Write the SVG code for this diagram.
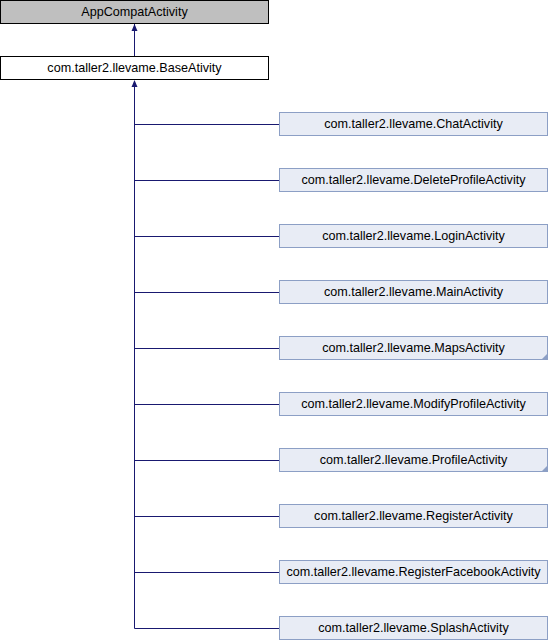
<svg xmlns="http://www.w3.org/2000/svg" width="548" height="640" viewBox="0 0 548 640">
<style>
text{font-family:"Liberation Sans",Arial,sans-serif;font-size:12.6px;fill:#000;text-anchor:middle}
.child{fill:#e8ecf5;stroke:#8c9fc5;stroke-width:1}
.edge{fill:none;stroke:#191970;stroke-width:1}
.fold{fill:#8c9fc5}
</style>
<rect width="548" height="640" fill="#fff"/>
<g id="connectors">
<line class="edge" x1="134.5" y1="56" x2="134.5" y2="24"/>
<path d="M134.5,24 L137.5,31 L131.5,31 Z" fill="#191970"/>
<path d="M134.5,80 L137.5,87 L131.5,87 Z" fill="#191970"/>
<path class="edge" d="M134.5,84 V628.5 H279"/>
<line class="edge" x1="134.5" y1="124.5" x2="279" y2="124.5"/>
<line class="edge" x1="134.5" y1="180.5" x2="279" y2="180.5"/>
<line class="edge" x1="134.5" y1="236.5" x2="279" y2="236.5"/>
<line class="edge" x1="134.5" y1="292.5" x2="279" y2="292.5"/>
<line class="edge" x1="134.5" y1="348.5" x2="279" y2="348.5"/>
<line class="edge" x1="134.5" y1="404.5" x2="279" y2="404.5"/>
<line class="edge" x1="134.5" y1="460.5" x2="279" y2="460.5"/>
<line class="edge" x1="134.5" y1="516.5" x2="279" y2="516.5"/>
<line class="edge" x1="134.5" y1="572.5" x2="279" y2="572.5"/>
</g>
<g id="AppCompatActivity">
<rect x="0.5" y="0.5" width="268" height="23" fill="#bfbfbf" stroke="#000"/>
<text x="134.5" y="15.5">AppCompatActivity</text>
</g>
<g id="BaseAtivity">
<rect x="0.5" y="56.5" width="268" height="23" fill="#fff" stroke="#000"/>
<text x="134.5" y="71.5">com.taller2.llevame.BaseAtivity</text>
</g>
<g id="ChatActivity">
<rect class="child" x="279.5" y="112.5" width="268" height="23"/>
<text x="413.5" y="127.5">com.taller2.llevame.ChatActivity</text>
</g>
<g id="DeleteProfileActivity">
<rect class="child" x="279.5" y="168.5" width="268" height="23"/>
<text x="413.5" y="183.5">com.taller2.llevame.DeleteProfileActivity</text>
</g>
<g id="LoginActivity">
<rect class="child" x="279.5" y="224.5" width="268" height="23"/>
<text x="413.5" y="239.5">com.taller2.llevame.LoginActivity</text>
</g>
<g id="MainActivity">
<rect class="child" x="279.5" y="280.5" width="268" height="23"/>
<text x="413.5" y="295.5">com.taller2.llevame.MainActivity</text>
</g>
<g id="MapsActivity">
<rect class="child" x="279.5" y="336.5" width="268" height="23"/>
<path class="fold" d="M548,353 L548,360 L541,360 Z"/>
<text x="413.5" y="351.5">com.taller2.llevame.MapsActivity</text>
</g>
<g id="ModifyProfileActivity">
<rect class="child" x="279.5" y="392.5" width="268" height="23"/>
<text x="413.5" y="407.5">com.taller2.llevame.ModifyProfileActivity</text>
</g>
<g id="ProfileActivity">
<rect class="child" x="279.5" y="448.5" width="268" height="23"/>
<path class="fold" d="M548,465 L548,472 L541,472 Z"/>
<text x="413.5" y="463.5">com.taller2.llevame.ProfileActivity</text>
</g>
<g id="RegisterActivity">
<rect class="child" x="279.5" y="504.5" width="268" height="23"/>
<text x="413.5" y="519.5">com.taller2.llevame.RegisterActivity</text>
</g>
<g id="RegisterFacebookActivity">
<rect class="child" x="279.5" y="560.5" width="268" height="23"/>
<text x="413.5" y="575.5">com.taller2.llevame.RegisterFacebookActivity</text>
</g>
<g id="SplashActivity">
<rect class="child" x="279.5" y="616.5" width="268" height="23"/>
<text x="413.5" y="631.5">com.taller2.llevame.SplashActivity</text>
</g>
</svg>
